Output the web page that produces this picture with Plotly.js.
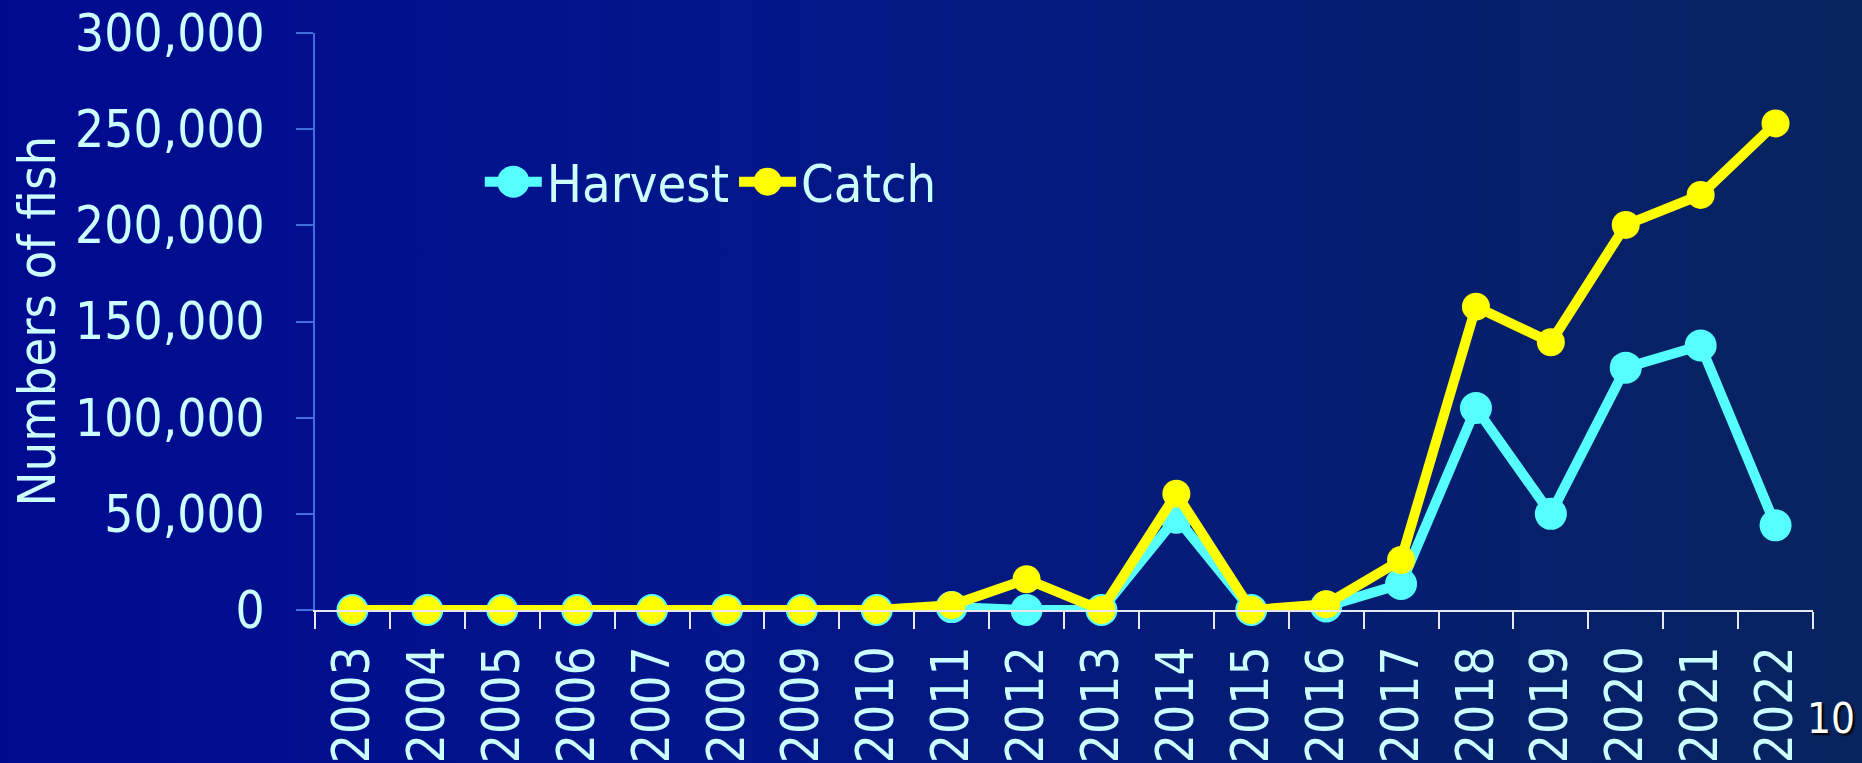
<!DOCTYPE html>
<html>
<head>
<meta charset="utf-8">
<script src="https://cdn.plot.ly/plotly-3.0.1.min.js"></script>
<style>
  html, body { margin: 0; padding: 0; width: 1862px; height: 763px; overflow: hidden;
    background: linear-gradient(to right, #000A90 0%, #03168A 40%, #07245E 100%); }
  #chart { width: 1862px; height: 763px; }
</style>
</head>
<body>
<div id="chart"></div>
<script>
const years = ["2003","2004","2005","2006","2007","2008","2009","2010","2011","2012",
               "2013","2014","2015","2016","2017","2018","2019","2020","2021","2022"];
const harvest = [0,0,0,0,0,0,0,0,1500,0,0,48000,0,1800,13500,105000,50000,126000,137500,44000];
const catchVals = [0,0,0,0,0,0,0,0,2500,16000,0,60500,0,3000,26000,157700,139200,200200,215800,253000];
const yTicks = [0,50000,100000,150000,200000,250000,300000];
const seriesNames = ["Harvest","Catch"];
const yTitle = "Numbers of fish";
const slideNo = "10";

const FONT = '"DejaVu Sans Condensed", "DejaVu Sans", "Liberation Sans", sans-serif';
const TXT = '#CCFFFF';

const traces = [
  { x: years, y: harvest, name: seriesNames[0], type: 'scatter', mode: 'lines+markers',
    line: { color: '#55FFFF', width: 10 }, marker: { color: '#55FFFF', size: 32 }, cliponaxis: false },
  { x: years, y: catchVals, name: seriesNames[1], type: 'scatter', mode: 'lines+markers',
    line: { color: '#FFFF00', width: 10 }, marker: { color: '#FFFF00', size: 28 }, cliponaxis: false }
];

const layout = {
  width: 1862, height: 763,
  paper_bgcolor: 'rgba(0,0,0,0)', plot_bgcolor: 'rgba(0,0,0,0)',
  margin: { l: 315, r: 49, t: 33, b: 153, pad: 0 },
  font: { family: FONT, color: TXT, size: 51 },
  showlegend: true,
  legend: { orientation: 'h', x: 0.110, xanchor: 'left', y: 0.742, yanchor: 'middle',
    itemwidth: 57, tracegroupgap: 0,
    bgcolor: 'rgba(0,0,0,0)', font: { family: FONT, color: TXT, size: 52 } },
  xaxis: { type: 'category', categoryorder: 'array', categoryarray: years, range: [-0.5, 19.5],
    tickson: 'boundaries', ticks: 'outside', ticklen: 17, tickwidth: 2, tickcolor: '#E8E8F0',
    showline: true, linecolor: '#E8E8F0', linewidth: 2, showgrid: false, zeroline: false,
    tickangle: -90, ticklabelstandoff: 14, tickfont: { family: FONT, color: TXT, size: 51 }, fixedrange: true },
  yaxis: { range: [0, 300000], tickvals: yTicks, tickformat: ',d', ticks: 'outside', ticklen: 17,
    tickwidth: 2, tickcolor: '#3C6EDC', showline: true, linecolor: '#3C6EDC', linewidth: 2,
    showgrid: false, zeroline: false, ticklabelstandoff: 21,
    tickfont: { family: FONT, color: TXT, size: 51 }, fixedrange: true },
  annotations: [
    { text: yTitle, xref: 'paper', yref: 'paper', x: (36 - 315) / 1498, y: 0.5,
      xanchor: 'center', yanchor: 'middle', textangle: -90, showarrow: false,
      font: { family: FONT, color: TXT, size: 52 } },
    { text: slideNo, xref: 'paper', yref: 'paper', x: (1857 - 315) / 1498, y: (610 - 718) / 577,
      xanchor: 'right', yanchor: 'middle', showarrow: false,
      font: { family: FONT, color: '#FFFFFF', size: 42, shadow: '2px 2px 2px #000000' } }
  ]
};

Plotly.newPlot('chart', traces, layout, { displayModeBar: false, staticPlot: true }).then(function (gd) {
  // Plotly caps legend marker sizes at 16px; enlarge legend keys to the traces' marker size
  var items = gd.querySelectorAll('.legend .traces');
  items.forEach(function (item, i) {
    var r = traces[i].marker.size / 2;
    item.querySelectorAll('.legendpoints path.scatterpts').forEach(function (p) {
      p.setAttribute('d', 'M' + r + ',0A' + r + ',' + r + ' 0 1,1 0,-' + r + 'A' + r + ',' + r + ' 0 0,1 ' + r + ',0Z');
    });
  });
});
</script>
</body>
</html>
